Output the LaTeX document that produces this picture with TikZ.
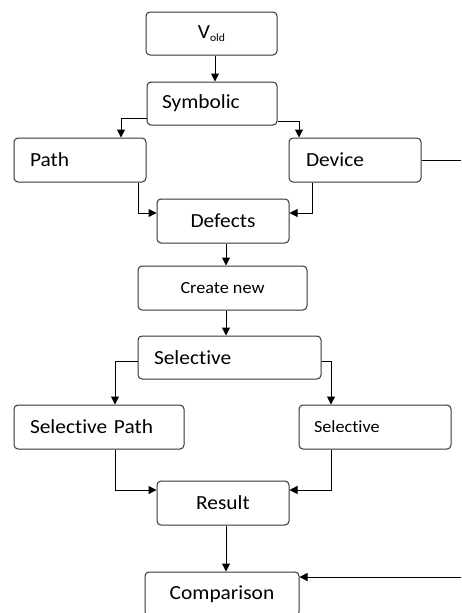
\documentclass[tikz,border=0pt]{standalone}
\usepackage{fontspec}
\setmainfont{Carlito}[FakeStretch=1.07, Ligatures=NoCommon]
\usetikzlibrary{arrows.meta}
\tikzset{
  box/.style={draw=black!80, line width=1pt, rounded corners=4pt, minimum height=44pt, inner ysep=0pt, font=\fontsize{20}{23}\selectfont},
  lbox/.style={box, align=left},
  small/.style={font=\fontsize{17}{20}\selectfont},
  arr/.style={draw=black, line width=1pt, -{Triangle[length=8pt,width=8pt]}},
  ln/.style={draw=black, line width=1pt}
}
\begin{document}
\begin{tikzpicture}[x=1pt,y=1pt]
\useasboundingbox (0,0) rectangle (461,-613);
% nodes
\node[box, minimum width=131pt, minimum height=43pt] (vold) at (211.5,-33.5) {V\raisebox{-0.35ex}{\fontsize{11}{12}\selectfont old}};
\node[lbox, minimum height=43pt, inner xsep=15pt, text width=100pt] (sym) at (212,-103.5) {Symbolic};
\node[lbox, inner xsep=16pt, text width=100pt] (path) at (80,-160) {Path};
\node[lbox, inner xsep=17pt, text width=98pt] (dev) at (355,-160) {Device};
\node[box, minimum width=132pt] (def) at (223,-221) {Defects};
\node[box, small, minimum width=169pt] (cre) at (222.5,-288) {Create new};
\node[lbox, minimum height=43pt, inner xsep=16pt, text width=151pt] (sel) at (229.5,-357.5) {Selective};
\node[lbox, inner xsep=16pt, text width=138pt] (sp) at (99,-427) {Selective Path};
\node[lbox, small, inner xsep=15pt, text width=122pt] (sr) at (375,-427) {Selective};
\node[box, minimum width=132pt] (res) at (223,-503) {Result};
\node[box, minimum width=154pt] (cmp) at (222,-594) {Comparison};
\coordinate (devout) at (461,-160);
\coordinate (cmpin) at (461,-577);
% connectors
\draw[arr] ([xshift=3.5pt]vold.south) -- ([xshift=3.5pt]vold.south |- sym.north);
\draw[arr] ([yshift=-14.5pt]sym.west) -| ([xshift=41pt]path.north);
\draw[arr] ([yshift=-18pt]sym.east) -| ([xshift=-56pt]dev.north);
\draw[arr] ([xshift=58pt]path.south) |- ([yshift=8pt]def.west);
\draw[arr] ([xshift=-43pt]dev.south) |- ([yshift=8pt]def.east);
\draw[ln] (dev.east) -- (devout);
\draw[arr] ([xshift=3pt]def.south) -- ([xshift=3pt]def.south |- cre.north);
\draw[arr] ([xshift=3.5pt]cre.south) -- ([xshift=3.5pt]cre.south |- sel.north);
\draw[arr] ([yshift=-3.5pt]sel.west) -| ([xshift=16pt]sp.north);
\draw[arr] ([yshift=-3.5pt]sel.east) -| ([xshift=-44pt]sr.north);
\draw[arr] ([xshift=16pt]sp.south) |- ([yshift=13pt]res.west);
\draw[arr] ([xshift=-44pt]sr.south) |- ([yshift=13pt]res.east);
\draw[arr] ([xshift=3pt]res.south) -- ([xshift=3pt]res.south |- cmp.north);
\draw[arr] (cmpin) -- (cmpin -| cmp.east);
\end{tikzpicture}
\end{document}
